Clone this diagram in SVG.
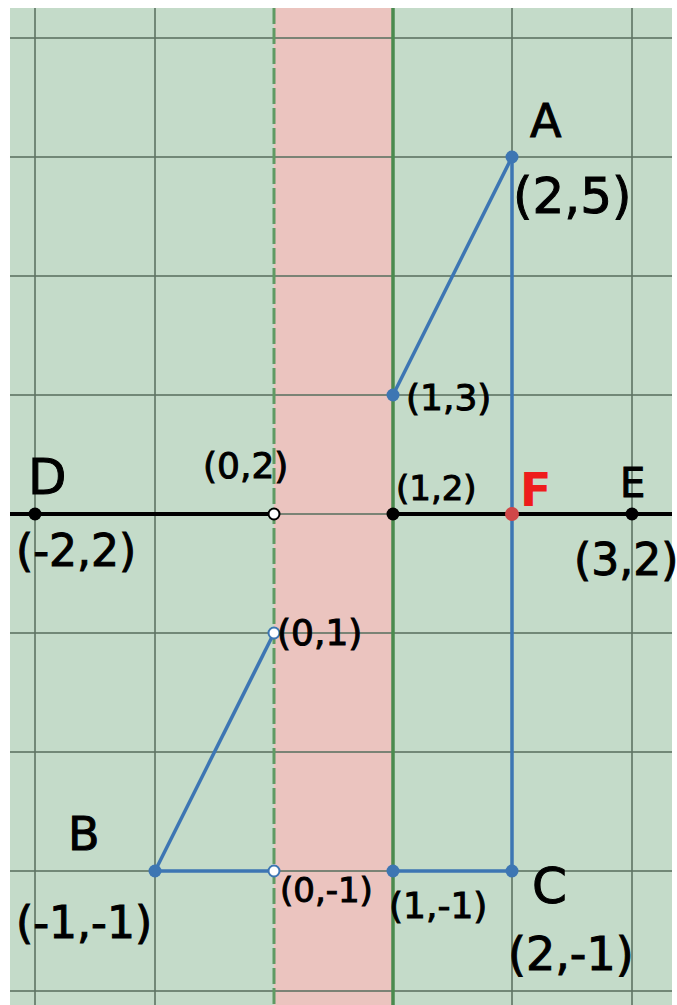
<svg xmlns="http://www.w3.org/2000/svg" width="677" height="1005" viewBox="0 0 677 1005">
<style>
.grid{stroke:#5e7363;stroke-width:2;stroke-opacity:0.8}
.blue{stroke:#3d76b3;stroke-width:3.5;fill:none;stroke-linecap:round}
.lbl{font-family:"DejaVu Sans",sans-serif;fill:#000;stroke:#000;stroke-width:1}
.dotb{fill:#3d76b3}
.open{fill:#ffffff;stroke:#3d76b3;stroke-width:2}
</style>
<rect x="0" y="0" width="677" height="1005" fill="#ffffff"/>
<g id="background">
<rect x="10" y="8" width="662" height="997" fill="#c4dbc9"/>
<rect x="274" y="8" width="119" height="997" fill="#ebc4bf"/>
</g>
<g id="grid">
<line class="grid" x1="35" y1="8" x2="35" y2="1005"/>
<line class="grid" x1="155" y1="8" x2="155" y2="1005"/>
<line class="grid" x1="512" y1="8" x2="512" y2="1005"/>
<line class="grid" x1="632" y1="8" x2="632" y2="1005"/>
<line class="grid" x1="10" y1="38" x2="672" y2="38"/>
<line class="grid" x1="10" y1="157" x2="672" y2="157"/>
<line class="grid" x1="10" y1="276" x2="672" y2="276"/>
<line class="grid" x1="10" y1="395" x2="672" y2="395"/>
<line class="grid" x1="10" y1="514" x2="672" y2="514"/>
<line class="grid" x1="10" y1="633" x2="672" y2="633"/>
<line class="grid" x1="10" y1="752" x2="672" y2="752"/>
<line class="grid" x1="10" y1="871" x2="672" y2="871"/>
<line class="grid" x1="10" y1="991" x2="672" y2="991"/>
<line x1="274" y1="8" x2="274" y2="1005" stroke="#5f9a63" stroke-width="3" stroke-dasharray="16 4"/>
<line x1="393" y1="8" x2="393" y2="1005" stroke="#4a8a4e" stroke-width="3.5"/>
</g>
<g id="connectors">
<line x1="10" y1="514" x2="274" y2="514" stroke="#000" stroke-width="4"/>
<line x1="393" y1="514" x2="672" y2="514" stroke="#000" stroke-width="4"/>
<line class="blue" x1="512" y1="157" x2="393" y2="395"/>
<line class="blue" x1="512" y1="157" x2="512" y2="871"/>
<line class="blue" x1="512" y1="871" x2="393" y2="871"/>
<line class="blue" x1="155" y1="871" x2="274" y2="633"/>
<line class="blue" x1="155" y1="871" x2="274" y2="871"/>
</g>
<g id="D"><circle cx="35" cy="514" r="6.5" fill="#000"/><text class="lbl" x="28" y="494" font-size="50">D</text><text class="lbl" x="16" y="566" font-size="44">(-2,2)</text></g>
<g id="P02"><circle cx="274" cy="514" r="5.5" fill="#fff" stroke="#000" stroke-width="2"/><text class="lbl" x="203" y="478" font-size="36">(0,2)</text></g>
<g id="P12"><circle cx="393" cy="514" r="6.5" fill="#000"/><text class="lbl" x="396" y="500" font-size="34">(1,2)</text></g>
<g id="F"><circle cx="512" cy="514" r="7" fill="#d04848"/><text x="520" y="506" font-size="46" font-family="DejaVu Sans,sans-serif" font-weight="bold" fill="#ee1c1c">F</text></g>
<g id="E"><circle cx="632" cy="514" r="6.5" fill="#000"/><text class="lbl" x="620" y="497" font-size="40">E</text><text class="lbl" x="574" y="575" font-size="44">(3,2)</text></g>
<g id="A"><circle class="dotb" cx="512" cy="157" r="6.5"/><text class="lbl" x="530" y="137" font-size="46">A</text><text class="lbl" x="513" y="213" font-size="50">(2,5)</text></g>
<g id="P13"><circle class="dotb" cx="393" cy="395" r="6.5"/><text class="lbl" x="406" y="410" font-size="36">(1,3)</text></g>
<g id="P01"><circle class="open" cx="274" cy="633" r="5.5"/><text class="lbl" x="277" y="645" font-size="36">(0,1)</text></g>
<g id="B"><circle class="dotb" cx="155" cy="871" r="6.5"/><text class="lbl" x="68" y="850" font-size="46">B</text><text class="lbl" x="16" y="938" font-size="44">(-1,-1)</text></g>
<g id="P0m1"><circle class="open" cx="274" cy="871" r="5.5"/><text class="lbl" x="280" y="902" font-size="34">(0,-1)</text></g>
<g id="P1m1"><circle class="dotb" cx="393" cy="871" r="6.5"/><text class="lbl" x="389" y="918" font-size="36">(1,-1)</text></g>
<g id="C"><circle class="dotb" cx="512" cy="871" r="6.5"/><text class="lbl" x="532" y="903" font-size="50">C</text><text class="lbl" x="508" y="970" font-size="46">(2,-1)</text></g>
</svg>
